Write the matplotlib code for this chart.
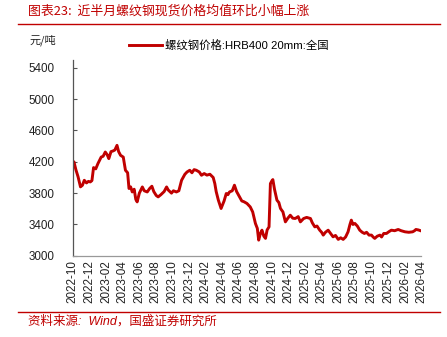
import matplotlib
matplotlib.use("Agg")
import matplotlib.pyplot as plt
import matplotlib.dates as mdates
import pandas as pd

plt.rcParams["font.family"] = ["Liberation Sans", "Noto Sans CJK SC", "DejaVu Sans"]

RED = "#c00000"
CJK = ["Noto Sans CJK SC", "DejaVu Sans"]
MIX = ["Liberation Sans", "Noto Sans CJK SC", "DejaVu Sans"]

# ── data ───────────────────────────────────────────────────────────────────
dates = [
    "2022-10-01", "2022-10-05", "2022-10-12", "2022-10-20", "2022-10-29", "2022-11-05",
    "2022-11-12", "2022-11-20", "2022-11-27", "2022-12-04", "2022-12-10", "2022-12-16",
    "2022-12-24", "2023-01-01", "2023-01-13", "2023-01-20", "2023-01-28", "2023-02-04",
    "2023-02-10", "2023-02-18", "2023-02-25", "2023-03-04", "2023-03-12", "2023-03-18",
    "2023-03-25", "2023-04-04", "2023-04-12", "2023-04-20", "2023-04-25", "2023-05-01",
    "2023-05-07", "2023-05-14", "2023-05-20", "2023-05-25", "2023-06-02", "2023-06-13",
    "2023-06-20", "2023-07-01", "2023-07-10", "2023-07-18", "2023-07-25", "2023-08-03",
    "2023-08-10", "2023-08-20", "2023-09-01", "2023-09-10", "2023-09-16", "2023-09-28",
    "2023-10-05", "2023-10-16", "2023-10-25", "2023-11-04", "2023-11-16", "2023-11-24",
    "2023-12-04", "2023-12-12", "2023-12-20", "2023-12-28", "2024-01-08", "2024-01-16",
    "2024-01-26", "2024-02-05", "2024-02-16", "2024-02-28", "2024-03-05", "2024-03-10",
    "2024-03-18", "2024-03-28", "2024-04-08", "2024-04-16", "2024-04-22", "2024-04-28",
    "2024-05-08", "2024-05-16", "2024-05-24", "2024-06-04", "2024-06-12", "2024-06-20",
    "2024-07-01", "2024-07-13", "2024-07-22", "2024-08-01", "2024-08-08", "2024-08-13",
    "2024-08-19", "2024-08-25", "2024-09-01", "2024-09-07", "2024-09-13", "2024-09-20",
    "2024-09-25", "2024-10-01", "2024-10-04", "2024-10-10", "2024-10-19", "2024-10-26",
    "2024-11-01", "2024-11-10", "2024-11-19", "2024-11-28", "2024-12-07", "2024-12-16",
    "2024-12-25", "2025-01-05", "2025-01-13", "2025-01-25", "2025-02-05", "2025-02-19",
    "2025-02-26", "2025-03-07", "2025-03-15", "2025-03-25", "2025-04-01", "2025-04-07",
    "2025-04-15", "2025-04-25", "2025-05-05", "2025-05-13", "2025-05-22", "2025-06-01",
    "2025-06-10", "2025-06-19", "2025-06-28", "2025-07-07", "2025-07-14", "2025-07-19",
    "2025-07-25", "2025-08-01", "2025-08-10", "2025-08-19", "2025-08-28", "2025-09-05",
    "2025-09-13", "2025-09-22", "2025-10-01", "2025-10-07", "2025-10-13", "2025-10-22",
    "2025-11-01", "2025-11-07", "2025-11-15", "2025-11-25", "2025-12-05", "2025-12-13",
    "2025-12-25", "2026-01-07", "2026-01-18", "2026-02-01", "2026-02-15", "2026-03-01",
    "2026-03-08", "2026-03-13", "2026-03-22", "2026-04-01",
]
price = [
    4180, 4200, 4100, 4010, 3880, 3900,
    3964, 3930, 3950, 3943, 3960, 4126,
    4110, 4177, 4261, 4270, 4325, 4290,
    4241, 4330, 4338, 4350, 4410, 4330,
    4283, 4260, 4092, 4060, 3859, 3880,
    3815, 3850, 3720, 3688, 3800, 3879,
    3830, 3815, 3860, 3888, 3820, 3770,
    3752, 3780, 3820, 3879, 3840, 3800,
    3830, 3815, 3830, 3964, 4040, 4070,
    4092, 4060, 4100, 4092, 4070, 4028,
    4050, 4030, 4041, 4000, 3922, 3820,
    3710, 3604, 3700, 3795, 3780, 3815,
    3830, 3901, 3820, 3752, 3700, 3690,
    3668, 3624, 3560, 3413, 3350, 3200,
    3280, 3327, 3250, 3222, 3330, 3369,
    3922, 3960, 3973, 3850, 3710, 3680,
    3604, 3560, 3433, 3480, 3518, 3480,
    3476, 3500, 3433, 3476, 3490, 3476,
    3420, 3369, 3380, 3327, 3300, 3264,
    3300, 3327, 3280, 3242, 3260, 3209,
    3230, 3209, 3240, 3306, 3400, 3455,
    3400, 3413, 3380, 3327, 3300, 3285,
    3300, 3264, 3264, 3240, 3222, 3250,
    3264, 3240, 3285, 3285, 3310, 3327,
    3320, 3336, 3320, 3306, 3300, 3306,
    3320, 3336, 3330, 3318,
]
series_label = "螺纹钢价格:HRB400 20mm:全国"
y_ticks = [3000, 3400, 3800, 4200, 4600, 5000, 5400]

title = "图表23:  近半月螺纹钢现货价格均值环比小幅上涨"
source = "资料来源:  Wind，国盛证券研究所"

x = pd.to_datetime(dates)
tick_dates = pd.date_range("2022-10-01", "2026-04-01", freq="2MS")

# ── figure ─────────────────────────────────────────────────────────────────
fig = plt.figure(figsize=(4.47, 3.37), dpi=100)
ax = fig.add_axes([0.163, 0.241, 0.779, 0.581])

ax.plot(x, price, color=RED, linewidth=2.1, label=series_label)

ax.set_ylim(3000, 5500)
ax.set_yticks(y_ticks)
ax.set_xlim(pd.Timestamp("2022-10-01"), pd.Timestamp("2026-04-01"))
ax.set_xticks(tick_dates)
ax.xaxis.set_major_formatter(mdates.DateFormatter("%Y-%m"))
for lab in ax.get_xticklabels():
    lab.set_rotation(90)

ax.tick_params(axis="y", direction="in", length=3, width=0.8, color="#555555",
               labelsize=8.4, labelcolor="#222222", pad=13)
ax.tick_params(axis="x", length=0, labelsize=8.4, labelcolor="#222222", pad=3)
for s in ("top", "right"):
    ax.spines[s].set_visible(False)
ax.spines["left"].set_color("#555555")
ax.spines["left"].set_linewidth(0.9)
ax.spines["bottom"].set_color("#999999")
ax.spines["bottom"].set_linewidth(0.9)

fig.legend(loc="center", bbox_to_anchor=(0.512, 0.866), frameon=False,
           prop={"family": MIX, "size": 8.2}, handlelength=2.9,
           handletextpad=0.2)

fig.text(0.067, 0.881, "元/吨", fontsize=8, family=CJK, color="#222222",
         va="center")

# header / footer
fig.text(0.063, 0.966, title, fontsize=9.3, family=CJK, color=RED,
         style="italic", va="center")
fig.add_artist(plt.Line2D([0.04, 0.985], [0.929, 0.929], color=RED,
                          linewidth=1.0, transform=fig.transFigure))
fig.add_artist(plt.Line2D([0.04, 0.985], [0.075, 0.075], color=RED,
                          linewidth=1.0, transform=fig.transFigure))
fig.text(0.063, 0.045, source, fontsize=9, family=MIX, color=RED,
         style="italic", va="center")

fig.savefig("out.png", dpi=100)
